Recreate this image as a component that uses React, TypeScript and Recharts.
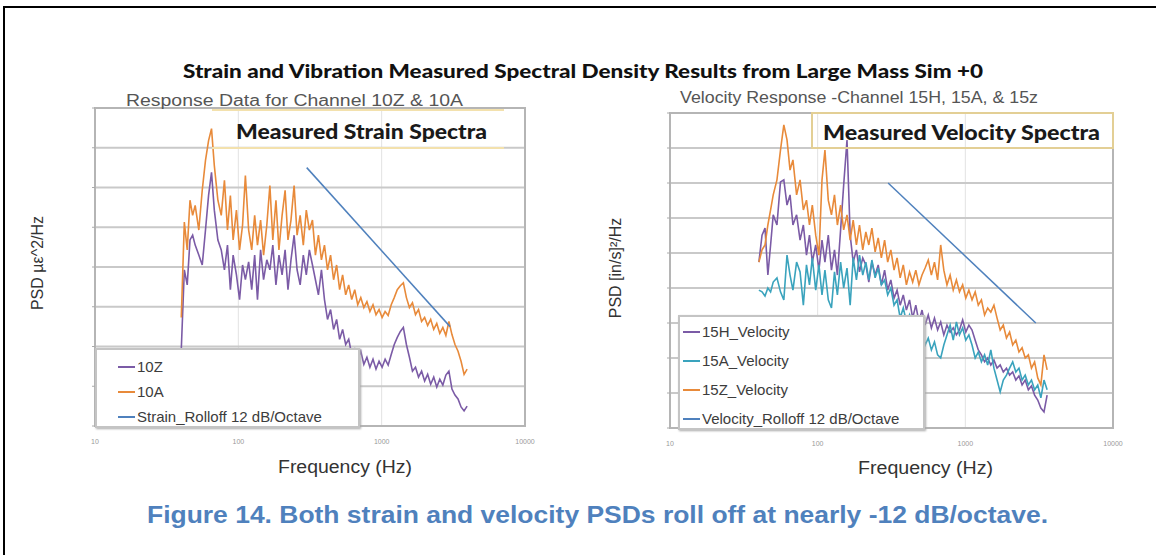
import React from 'react';
import { CartesianGrid, Legend, Line, LineChart, ReferenceArea, XAxis, YAxis } from 'recharts';

// frequency grid (Hz) shared by the measured spectra
const FREQ = [
  40, 42, 44, 46, 48, 50, 53, 56, 59, 62, 65, 68, 72, 76, 80, 84, 88, 92, 97, 102,
  107, 112, 118, 124, 130, 136, 143, 150, 158, 166, 174, 183, 192, 202, 212, 222, 233, 245, 257, 270,
  284, 298, 313, 329, 345, 362, 380, 399, 419, 440, 462, 485, 509, 534, 561, 589, 618, 649, 681, 715,
  751, 789, 828, 870, 913, 959, 1007, 1057, 1110, 1166, 1224, 1285, 1350, 1417, 1488, 1562, 1640, 1722, 1808, 1899,
  1994, 2093, 2198, 2308, 2423, 2544, 2672, 2805, 2945, 3093, 3247, 3410, 3580, 3759, 3947,
];

// strain PSD, dB (relative)
const STRAIN_10Z = [
  19.3, 39.3, 35.5, 46.8, 48, 45.5, 43, 40.5, 49.3, 58, 63.8, 54.3, 46.8, 44.3, 39.3, 45.5, 34.3, 43, 38, 31.8,
  40.5, 36.8, 41.3, 34.3, 43, 31.8, 44.3, 36.8, 41.8, 39.3, 45.5, 35.5, 43, 38, 44.3, 34.3, 41.8, 48, 39.3, 35.5,
  43, 38, 44.3, 40.5, 36.8, 33, 39.3, 31.8, 26.8, 29.3, 24.3, 26.8, 21.8, 24.3, 20.5, 21.8, 18, 19.3, 16.8, 18.8,
  15.5, 17.3, 14.8, 16.8, 14.3, 16.3, 14.8, 16.8, 15.3, 18, 20.5, 22.3, 23.8, 24.8, 20.5, 17.3, 13.8, 14.8, 12.3, 13.8,
  11.3, 13, 10.5, 12.3, 9.8, 11.8, 10.3, 12.8, 13.8, 9.3, 7.8, 6.8, 4.8, 3.8, 5,
];
const STRAIN_10A = [
  27.3, 51.3, 44.3, 56.8, 53, 55.5, 49.3, 59.3, 66.8, 71.8, 74.8, 65.5, 56.8, 53, 61.8, 49.3, 58, 46.8, 54.3, 44.3,
  50.5, 63, 49.3, 44.3, 53, 45.5, 51.8, 43, 50.5, 60.5, 46.8, 56.8, 44.3, 53, 59.3, 46.8, 51.8, 60.5, 48, 53,
  45.5, 54.3, 49.3, 51.8, 43, 48, 41.8, 45.5, 39.3, 43, 36.8, 40.5, 34.3, 38, 33, 35.5, 31.8, 34.3, 30.5, 32.3,
  29.8, 31.3, 28.8, 30.5, 28, 29.3, 27.3, 28.8, 27.8, 30.5, 32.3, 34.3, 35.3, 36, 32.3, 29.8, 31, 28, 29.3, 26.3,
  27.3, 25.3, 26.8, 24.3, 25.8, 23.3, 24.8, 22.8, 26.3, 23, 20.5, 18.8, 16.3, 13, 14.3,
];
const STRAIN_ROLLOFF_F = [300, 3000];
const STRAIN_ROLLOFF_V = [65, 25];
const STRAIN_NAMES = ['10Z', '10A', 'Strain_Rolloff  12 dB/Octave'];

// velocity PSD, dB (relative)
const VEL_15H = [
  47.4, 55.1, 57.1, 43.7, 52.3, 60.9, 58, 70.3, 70.9, 63.7, 66.6, 58, 60.9, 53.7, 58, 49.4, 55.1, 47.4, 52.3, 45.1,
  53.7, 47.4, 55.1, 45.1, 50.9, 43.7, 56.6, 69.4, 82.3, 55.1, 47.4, 50.9, 44.6, 48.6, 46.6, 41.7, 47.4, 43.7, 46.6, 40.9,
  45.1, 39.4, 42.3, 37.1, 39.4, 35.1, 38, 33.7, 36.6, 31.4, 35.1, 30.3, 33.7, 29.4, 32.3, 28.6, 31.4, 28, 30.3, 26.6,
  29.4, 27.4, 28.6, 26.6, 28, 30.9, 27.4, 29.4, 28, 25.1, 22.3, 20.9, 18.9, 20, 18, 19.4, 17.1, 18, 16, 17.1,
  15.1, 16, 13.7, 14.9, 12.3, 13.7, 10.9, 12, 9.4, 8, 5.7, 4.6, 9.4,
];
const VEL_15A = [
  39.4, 38.9, 37.7, 40, 38.9, 41.7, 42.9, 38.9, 36.6, 49.4, 43.7, 39.4, 47.4, 44.6, 35.1, 46.6, 40.9, 48.6, 39.4, 46.6,
  38, 45.1, 36.6, 34.3, 44.6, 38, 47.4, 40, 45.7, 35.1, 48.6, 42.3, 49.4, 43.7, 47.4, 42.3, 48, 42.9, 45.7, 40.9,
  42.3, 38, 40, 35.1, 36.6, 31.4, 34.3, 30.3, 32.3, 28, 30.3, 25.7, 28, 23.7, 25.7, 22.3, 24.6, 20.9, 20, 23.7,
  26.6, 29.4, 25.1, 30.3, 26.6, 28.6, 25.1, 26.6, 23.7, 20, 21.7, 18.9, 20.9, 18, 22.3, 17.1, 13.7, 10.3, 13.7, 15.1,
  17.1, 18.9, 16, 17.1, 13.7, 15.1, 12.3, 13.7, 10.9, 12.3, 8.6, 13.7, 10.9,
];
const VEL_15Z = [
  47.4, 50.9, 52.3, 58, 62.3, 66.6, 70.9, 79.4, 86.6, 82.3, 73.7, 76.6, 66.6, 70.9, 62.3, 65.1, 58, 63.7, 55.1, 49.4,
  70.9, 79.4, 65.1, 60.9, 66.6, 58, 63.7, 56.6, 60.9, 53.7, 59.4, 52.3, 58, 50.9, 56, 52.3, 57.1, 50.3, 54.3, 48.6,
  53.7, 47.4, 50.9, 45.1, 48.6, 42.9, 46.6, 40.9, 44.6, 41.7, 45.1, 40.9, 43.7, 45.7, 48, 43.7, 47.4, 42.3, 52.3, 45.1,
  40.9, 43.7, 39.4, 42.3, 38.9, 40.9, 37.1, 39.4, 36.6, 38.9, 35.1, 36.6, 32.3, 34.3, 33.1, 35.1, 31.4, 28, 29.4, 25.7,
  27.4, 23.7, 25.1, 21.7, 22.9, 20, 20.9, 17.1, 18.9, 14.3, 12.3, 20.9, 16.6,
];
const VEL_ROLLOFF_F = [300, 3000];
const VEL_ROLLOFF_V = [70, 30];
const VEL_NAMES = ['15H_Velocity', '15A_Velocity', '15Z_Velocity', 'Velocity_Rolloff  12 dB/Octave'];

const FREQ_TICKS = [10, 100, 1000, 10000];
const STRAIN_TICKS = [0, 10, 20, 30, 40, 50, 60, 70, 80];
const VEL_TICKS = [0, 10, 20, 30, 40, 50, 60, 70, 80, 90];

const PURPLE = '#7b5ba6';
const ORANGE = '#e88a3a';
const TEAL = '#3aa3bd';
const BLUE = '#4f81bd';
const FONT = '"Liberation Sans", Arial, sans-serif';

const spectrum = (vals: number[]) => vals.map((v, i) => ({ f: FREQ[i], v }));
const rolloff = (fs: number[], vs: number[]) => fs.map((f, i) => ({ f, v: vs[i] }));

function LegendBox({ payload, order, rowH, padTop, padLeft }: any) {
  // keep the series order (recharts sorts by name otherwise)
  const items = [...(payload ?? [])].sort((a: any, b: any) => order.indexOf(a.value) - order.indexOf(b.value));
  return (
    <div
      style={{
        boxSizing: 'border-box',
        width: '100%',
        height: '100%',
        background: '#fff',
        border: '2px solid #c4c4c4',
        boxShadow: '1px 1px 2px #aaa',
        paddingTop: padTop,
        paddingLeft: padLeft,
        fontFamily: FONT,
        fontSize: 15,
        color: '#3c3c3c',
      }}
    >
      {items.map((p: any) => (
        <div key={p.value} style={{ display: 'flex', alignItems: 'center', height: rowH }}>
          <span style={{ display: 'inline-block', width: 17, height: 2, background: p.color, marginRight: 2 }} />
          <span>{p.value}</span>
        </div>
      ))}
    </div>
  );
}

function StrainChart() {
  return (
    <LineChart width={560} height={360} margin={{ top: 8, right: 35, bottom: 0, left: 0 }}>
      <CartesianGrid horizontal={false} stroke="#e2e2e2" strokeWidth={1} />
      <CartesianGrid vertical={false} stroke="#c9c9c9" strokeWidth={2} />
      <XAxis
        type="number"
        dataKey="f"
        scale="log"
        domain={[10, 10000]}
        ticks={FREQ_TICKS}
        allowDataOverflow
        height={34}
        tickLine={false}
        tickMargin={7}
        axisLine={false}
        tick={{ fontSize: 7, fill: '#999', fontFamily: FONT }}
      />
      <YAxis
        type="number"
        domain={[0, 80]}
        ticks={STRAIN_TICKS}
        width={95}
        tickSize={3}
        tickFormatter={() => ''}
        axisLine={false}
        tickLine={{ stroke: '#aaa' }}
      />
      <ReferenceArea x1={10} x2={10000} y1={0} y2={80} fill="none" stroke="#b5b5b5" strokeWidth={2} />
      <Line data={spectrum(STRAIN_10Z)} dataKey="v" name={STRAIN_NAMES[0]} stroke={PURPLE} strokeWidth={1.6} dot={false} isAnimationActive={false} />
      <Line data={spectrum(STRAIN_10A)} dataKey="v" name={STRAIN_NAMES[1]} stroke={ORANGE} strokeWidth={1.6} dot={false} isAnimationActive={false} />
      <Line
        data={rolloff(STRAIN_ROLLOFF_F, STRAIN_ROLLOFF_V)}
        dataKey="v"
        name={STRAIN_NAMES[2]}
        stroke={BLUE}
        strokeWidth={1.5}
        dot={false}
        isAnimationActive={false}
      />
      <Legend
        layout="horizontal"
        verticalAlign="middle"
        align="center"
        wrapperStyle={{ left: 95, top: 248, width: 265, height: 80 }}
        content={(props: any) => <LegendBox {...props} order={STRAIN_NAMES} rowH={25} padTop={4} padLeft={21} />}
      />
    </LineChart>
  );
}

function VelocityChart() {
  return (
    <LineChart width={560} height={362} margin={{ top: 13, right: 27, bottom: 0, left: 0 }}>
      <CartesianGrid horizontal={false} stroke="#e2e2e2" strokeWidth={1} />
      <CartesianGrid vertical={false} stroke="#c9c9c9" strokeWidth={2} />
      <XAxis
        type="number"
        dataKey="f"
        scale="log"
        domain={[10, 10000]}
        ticks={FREQ_TICKS}
        allowDataOverflow
        height={34}
        tickLine={false}
        tickMargin={7}
        axisLine={false}
        tick={{ fontSize: 7, fill: '#999', fontFamily: FONT }}
      />
      <YAxis
        type="number"
        domain={[0, 90]}
        ticks={VEL_TICKS}
        width={90}
        tickSize={3}
        tickFormatter={() => ''}
        axisLine={false}
        tickLine={{ stroke: '#aaa' }}
      />
      <ReferenceArea x1={10} x2={10000} y1={0} y2={90} fill="none" stroke="#b5b5b5" strokeWidth={2} />
      <Line data={spectrum(VEL_15H)} dataKey="v" name={VEL_NAMES[0]} stroke={PURPLE} strokeWidth={1.6} dot={false} isAnimationActive={false} />
      <Line data={spectrum(VEL_15A)} dataKey="v" name={VEL_NAMES[1]} stroke={TEAL} strokeWidth={1.6} dot={false} isAnimationActive={false} />
      <Line data={spectrum(VEL_15Z)} dataKey="v" name={VEL_NAMES[2]} stroke={ORANGE} strokeWidth={1.6} dot={false} isAnimationActive={false} />
      <Line
        data={rolloff(VEL_ROLLOFF_F, VEL_ROLLOFF_V)}
        dataKey="v"
        name={VEL_NAMES[3]}
        stroke={BLUE}
        strokeWidth={1.5}
        dot={false}
        isAnimationActive={false}
      />
      <Legend
        layout="horizontal"
        verticalAlign="middle"
        align="center"
        wrapperStyle={{ left: 98, top: 215, width: 247, height: 115 }}
        content={(props: any) => <LegendBox {...props} order={VEL_NAMES} rowH={29} padTop={0} padLeft={3} />}
      />
    </LineChart>
  );
}

export default function App() {
  return (
    <div style={{ position: 'absolute', left: 0, top: 0, width: 1156, height: 555, background: '#fff', overflow: 'hidden' }}>
      <div style={{ position: 'absolute', left: 0, top: 100 }}>
        <StrainChart />
      </div>
      <div style={{ position: 'absolute', left: 580, top: 100 }}>
        <VelocityChart />
      </div>
      <svg width={1156} height={555} style={{ position: 'absolute', left: 0, top: 0, pointerEvents: 'none' }}>
        <rect x={4} y={7} width={1300} height={700} fill="none" stroke="#000" strokeWidth={2} />
        <text x={183} y={70} textLength={800} lengthAdjust="spacingAndGlyphs" dominantBaseline="central"
          style={{ fontFamily: 'Lato, sans-serif', fontWeight: 900, fontSize: 19, fill: '#111' }}>
          Strain and Vibration Measured Spectral Density Results from Large Mass Sim +0
        </text>
        <text x={126} y={100} textLength={337} lengthAdjust="spacingAndGlyphs" dominantBaseline="central"
          style={{ fontFamily: FONT, fontSize: 16, fill: '#555' }}>
          Response Data for Channel 10Z &amp; 10A
        </text>
        <text x={680} y={97} textLength={358} lengthAdjust="spacingAndGlyphs" dominantBaseline="central"
          style={{ fontFamily: FONT, fontSize: 16, fill: '#555' }}>
          Velocity Response -Channel 15H, 15A, &amp; 15z
        </text>
        <line x1={212} y1={110} x2={504} y2={110} stroke="#f3e1ad" strokeWidth={2} />
        <line x1={212} y1={148} x2={504} y2={148} stroke="#f3e1ad" strokeWidth={2} />
        <text x={236} y={131} textLength={251} lengthAdjust="spacingAndGlyphs" dominantBaseline="central"
          style={{ fontFamily: 'Lato, sans-serif', fontWeight: 900, fontSize: 20, fill: '#1a1a1a' }}>
          Measured Strain Spectra
        </text>
        <rect x={812} y={113} width={301} height={35} fill="none" stroke="#e3cf95" strokeWidth={2} />
        <text x={823} y={132} textLength={277} lengthAdjust="spacingAndGlyphs" dominantBaseline="central"
          style={{ fontFamily: 'Lato, sans-serif', fontWeight: 900, fontSize: 20, fill: '#1a1a1a' }}>
          Measured Velocity Spectra
        </text>
        <text x={278} y={467} textLength={134} lengthAdjust="spacingAndGlyphs" dominantBaseline="central"
          style={{ fontFamily: FONT, fontSize: 18, fill: '#333' }}>
          Frequency (Hz)
        </text>
        <text x={858} y={468} textLength={135} lengthAdjust="spacingAndGlyphs" dominantBaseline="central"
          style={{ fontFamily: FONT, fontSize: 18, fill: '#333' }}>
          Frequency (Hz)
        </text>
        <text x={37} y={263} textAnchor="middle" dominantBaseline="central" transform="rotate(-90 37 263)"
          style={{ fontFamily: FONT, fontSize: 16, fill: '#333' }}>
          PSD µε^2/Hz
        </text>
        <text x={615} y={268} textAnchor="middle" dominantBaseline="central" transform="rotate(-90 615 268)"
          style={{ fontFamily: FONT, fontSize: 16, fill: '#333' }}>
          PSD [in/s]²/Hz
        </text>
        <text x={147} y={515} textLength={901} lengthAdjust="spacingAndGlyphs" dominantBaseline="central"
          style={{ fontFamily: FONT, fontWeight: 700, fontSize: 23, fill: '#4f81bd' }}>
          Figure 14. Both strain and velocity PSDs roll off at nearly -12 dB/octave.
        </text>
      </svg>
    </div>
  );
}
